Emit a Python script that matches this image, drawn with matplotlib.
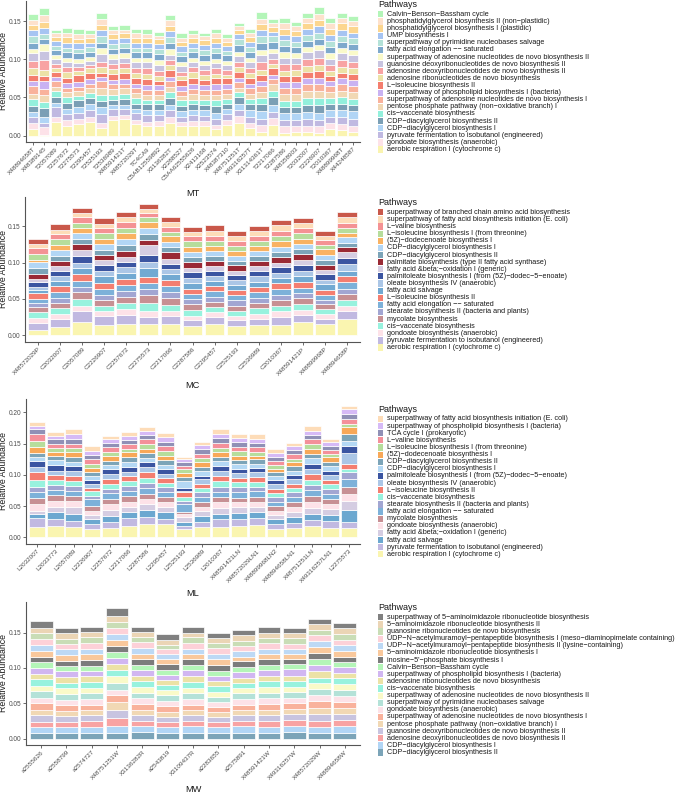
import numpy as np
import matplotlib
matplotlib.use('Agg')
import matplotlib.pyplot as plt
from matplotlib.patches import Rectangle
from matplotlib.ticker import FormatStrFormatter

plt.rcParams['font.family'] = ['Liberation Sans', 'DejaVu Sans']

# ======================= DATA =======================
# abundances are in permille (x 0.001); columns follow the pathway list (bottom -> top of stack)

# ---------- MT ----------
mt_samples = ["X48894658T", "X48389145", "T2057089", "T2257672", "T2275573", "T2295457",
              "T2525193", "T2536989", "X48591421T", "X48572029T", "TC4CA9", "C5AB12559892",
              "X3136282T", "X2288527", "C5AA62555626", "X2413168", "X2523574", "X48387310",
              "X48751251T", "X49316257T", "X31314361T", "T2217066", "T2287586", "X48358903",
              "T2032007", "T2226907", "T2010367", "X48899968T", "X44248587"]
mt_pathways = ["aerobic respiration I (cytochrome c)",
               "gondoate biosynthesis (anaerobic)",
               "pyruvate fermentation to isobutanol (engineered)",
               "CDP\u2212diacylglycerol biosynthesis I",
               "CDP\u2212diacylglycerol biosynthesis II",
               "cis\u2212vaccenate biosynthesis",
               "pentose phosphate pathway (non\u2212oxidative branch) I",
               "superpathway of adenosine nucleotides de novo biosynthesis I",
               "superpathway of phospholipid biosynthesis I (bacteria)",
               "L\u2212isoleucine biosynthesis II",
               "adenosine ribonucleotides de novo biosynthesis",
               "adenosine deoxyribonucleotides de novo biosynthesis II",
               "guanosine deoxyribonucleotides de novo biosynthesis II",
               "superpathway of adenosine nucleotides de novo biosynthesis II",
               "fatty acid elongation \u2212\u2212 saturated",
               "superpathway of pyrimidine nucleobases salvage",
               "UMP biosynthesis I",
               "phosphatidylglycerol biosynthesis I (plastidic)",
               "phosphatidylglycerol biosynthesis II (non\u2212plastidic)",
               "Calvin\u2212Benson\u2212Bassham cycle"]
mt_colors = ["#faf4b0", "#fde2e8", "#c0b9e1", "#b1d5f5", "#7b9fb5", "#93f0dc", "#f1d8b4",
             "#f9b29c", "#c9b2f2", "#f47e6e", "#ece2a6", "#f8a3a3", "#c8c4e0", "#fafaca",
             "#7ea9cc", "#b4e2d8", "#a6c4f2", "#fcd68f", "#fde1cc", "#b3f5b8"]
mt_abund = [
    [8, 8, 8, 7, 8, 9, 7, 10, 7, 8, 8, 10, 10, 6, 7, 9, 8, 7, 6, 8],
    [1, 10, 6, 8, 11, 8, 9, 8, 10, 7, 8, 13, 12, 9, 6, 7, 8, 8, 9, 9],
    [18, 6, 13, 6, 7, 8, 6, 7, 6, 7, 5, 5, 6, 6, 6, 6, 6, 5, 5, 5],
    [13, 7, 8, 7, 8, 7, 7, 6, 6, 7, 8, 6, 6, 6, 7, 6, 7, 7, 5, 7],
    [15, 7, 8, 8, 8, 6, 6, 6, 6, 9, 6, 5, 5, 6, 7, 6, 7, 6, 6, 7],
    [18, 7, 8, 8, 8, 7, 6, 6, 6, 8, 6, 5, 5, 5, 7, 6, 6, 6, 5, 6],
    [10, 7, 11, 9, 8, 8, 9, 9, 6, 5, 8, 7, 10, 8, 7, 9, 8, 6, 8, 8],
    [20, 6, 9, 5, 7, 6, 8, 6, 6, 8, 6, 7, 7, 6, 7, 6, 7, 6, 5, 5],
    [22, 5, 8, 5, 8, 7, 7, 6, 6, 8, 6, 7, 7, 6, 7, 6, 7, 6, 4, 7],
    [15, 5, 9, 6, 7, 7, 7, 6, 6, 8, 6, 7, 7, 6, 7, 6, 7, 6, 6, 6],
    [12, 6, 9, 7, 7, 6, 6, 7, 6, 8, 7, 7, 8, 6, 7, 6, 7, 6, 5, 7],
    [13, 6, 8, 7, 7, 6, 6, 7, 6, 6, 6, 7, 7, 7, 8, 6, 7, 6, 5, 5],
    [17, 7, 9, 7, 9, 8, 7, 7, 6, 9, 6, 7, 7, 7, 8, 8, 8, 7, 7, 7],
    [12, 6, 7, 7, 7, 7, 6, 7, 6, 8, 5, 6, 7, 6, 7, 6, 7, 6, 5, 6],
    [13, 6, 8, 7, 7, 6, 7, 7, 6, 9, 7, 7, 6, 6, 7, 6, 7, 6, 5, 5],
    [12, 7, 7, 7, 7, 7, 6, 7, 6, 7, 6, 7, 6, 6, 7, 7, 7, 6, 5, 5],
    [8, 6, 8, 8, 9, 7, 7, 7, 7, 8, 6, 7, 7, 6, 7, 7, 7, 6, 6, 6],
    [14, 6, 8, 7, 7, 6, 6, 7, 6, 8, 5, 6, 6, 6, 7, 6, 6, 6, 5, 5],
    [17, 9, 7, 9, 8, 7, 6, 7, 6, 8, 6, 7, 7, 6, 9, 7, 7, 6, 5, 3],
    [10, 7, 8, 8, 8, 7, 7, 7, 6, 8, 6, 7, 7, 6, 7, 7, 7, 6, 5, 6],
    [5, 9, 8, 10, 9, 8, 8, 8, 7, 8, 6, 10, 9, 7, 9, 9, 8, 8, 7, 9],
    [14, 9, 8, 9, 11, 8, 8, 7, 6, 8, 6, 7, 7, 6, 9, 7, 6, 6, 5, 6],
    [4, 8, 8, 9, 8, 8, 9, 8, 8, 8, 7, 9, 8, 7, 8, 8, 7, 8, 7, 7],
    [5, 7, 8, 9, 8, 8, 10, 7, 8, 8, 8, 8, 8, 6, 8, 7, 7, 7, 6, 6],
    [5, 8, 9, 9, 9, 9, 10, 9, 8, 8, 7, 9, 9, 7, 8, 8, 8, 7, 7, 7],
    [3, 9, 9, 9, 10, 9, 9, 9, 8, 10, 7, 10, 10, 7, 8, 8, 9, 8, 8, 8],
    [8, 8, 8, 9, 8, 8, 8, 8, 7, 6, 7, 8, 8, 7, 8, 8, 8, 8, 7, 7],
    [7, 8, 9, 9, 9, 8, 8, 9, 8, 7, 8, 9, 9, 7, 8, 8, 8, 8, 7, 7],
    [5, 8, 9, 10, 8, 8, 9, 8, 8, 8, 8, 8, 8, 7, 8, 8, 7, 8, 7, 7],
]

# ---------- MC ----------
mc_samples = ["X48572029P", "C2032007", "C2057089", "C2226907", "C2257672", "C2275573",
              "C2217066", "C2287586", "C2295457", "C2525193", "C2536989", "C2010367",
              "X48591421P", "X48899968P", "X48894658P"]
mc_pathways = ["aerobic respiration I (cytochrome c)",
               "pyruvate fermentation to isobutanol (engineered)",
               "gondoate biosynthesis (anaerobic)",
               "cis\u2212vaccenate biosynthesis",
               "mycolate biosynthesis",
               "stearate biosynthesis II (bacteria and plants)",
               "fatty acid elongation \u2212\u2212 saturated",
               "L\u2212isoleucine biosynthesis II",
               "fatty acid salvage",
               "oleate biosynthesis IV (anaerobic)",
               "palmitoleate biosynthesis I (from (5Z)\u2212dodec\u22125\u2212enoate)",
               "fatty acid &beta;\u2212oxidation I (generic)",
               "palmitate biosynthesis (type II fatty acid synthase)",
               "CDP\u2212diacylglycerol biosynthesis II",
               "CDP\u2212diacylglycerol biosynthesis I",
               "(5Z)\u2212dodecenoate biosynthesis I",
               "L\u2212isoleucine biosynthesis I (from threonine)",
               "L\u2212valine biosynthesis",
               "superpathway of fatty acid biosynthesis initiation (E. coli)",
               "superpathway of branched chain amino acid biosynthesis"]
mc_colors = ["#faf5b0", "#c1b9e1", "#fde2e8", "#98f2de", "#c79093", "#a2a6d2", "#7db1d9",
             "#f47e70", "#72a9d2", "#abc6e6", "#3b55a1", "#d5cde2", "#9a2a35", "#7ca4b8",
             "#b2d6f5", "#f9b262", "#b6dd9c", "#f49294", "#fddcb8", "#c9584a"]
mc_abund = [
    [7, 10, 7, 8, 7, 5, 6, 8, 5, 4, 7, 4, 7, 8, 8, 3, 8, 8, 5, 7],
    [12, 10, 8, 7, 8, 7, 8, 8, 7, 7, 7, 6, 7, 7, 8, 7, 8, 7, 6, 8],
    [18, 15, 8, 9, 9, 8, 8, 9, 8, 8, 9, 8, 9, 7, 7, 8, 7, 7, 6, 7],
    [14, 13, 7, 7, 7, 7, 9, 8, 9, 8, 7, 7, 7, 7, 8, 8, 7, 7, 6, 8],
    [15, 13, 8, 8, 9, 8, 8, 8, 9, 8, 7, 7, 8, 8, 8, 8, 8, 8, 6, 7],
    [15, 10, 9, 10, 11, 9, 8, 8, 13, 8, 10, 13, 7, 8, 8, 9, 6, 6, 6, 7],
    [15, 12, 7, 8, 9, 8, 9, 8, 8, 7, 7, 7, 9, 7, 7, 8, 6, 7, 7, 7],
    [13, 8, 6, 8, 8, 7, 7, 7, 8, 7, 8, 6, 8, 7, 7, 7, 7, 7, 6, 7],
    [16, 9, 7, 7, 7, 7, 8, 7, 7, 7, 7, 6, 7, 7, 7, 7, 7, 7, 6, 8],
    [13, 8, 6, 7, 7, 7, 7, 7, 7, 7, 7, 6, 7, 6, 7, 7, 7, 7, 6, 7],
    [14, 9, 7, 7, 8, 7, 7, 7, 8, 7, 8, 6, 7, 7, 7, 7, 7, 7, 6, 7],
    [14, 11, 8, 8, 8, 7, 8, 8, 7, 7, 8, 6, 8, 7, 7, 8, 7, 7, 7, 7],
    [19, 9, 7, 8, 8, 7, 7, 8, 8, 8, 8, 7, 8, 7, 7, 7, 7, 8, 6, 7],
    [15, 8, 7, 6, 7, 6, 7, 7, 7, 6, 8, 6, 7, 6, 8, 7, 6, 7, 6, 6],
    [22, 12, 7, 7, 9, 7, 9, 8, 8, 9, 8, 8, 7, 6, 8, 6, 7, 7, 7, 7],
]

# ---------- ML ----------
ml_samples = ["L2032007", "L2033773", "L2057089", "L2226907", "L2257672", "L2217066",
              "L2287586", "L2295457", "L2525193", "L2536989", "L2010367", "X48591421LN",
              "X48572029LN1", "X48899968LN2", "X48894658LN1", "X48751251LN",
              "X49316257LN1", "L2275573"]
ml_pathways = ["aerobic respiration I (cytochrome c)",
               "pyruvate fermentation to isobutanol (engineered)",
               "fatty acid salvage",
               "fatty acid &beta;\u2212oxidation I (generic)",
               "gondoate biosynthesis (anaerobic)",
               "mycolate biosynthesis",
               "fatty acid elongation \u2212\u2212 saturated",
               "stearate biosynthesis II (bacteria and plants)",
               "cis\u2212vaccenate biosynthesis",
               "L\u2212isoleucine biosynthesis II",
               "oleate biosynthesis IV (anaerobic)",
               "palmitoleate biosynthesis I (from (5Z)\u2212dodec\u22125\u2212enoate)",
               "CDP\u2212diacylglycerol biosynthesis I",
               "CDP\u2212diacylglycerol biosynthesis II",
               "(5Z)\u2212dodecenoate biosynthesis I",
               "L\u2212isoleucine biosynthesis I (from threonine)",
               "L\u2212valine biosynthesis",
               "TCA cycle I (prokaryotic)",
               "superpathway of phospholipid biosynthesis I (bacteria)",
               "superpathway of fatty acid biosynthesis initiation (E. coli)"]
ml_colors = ["#faf5b0", "#c1b9e1", "#6ca8d0", "#d5cde2", "#fde2e8", "#c79094", "#7db1d9",
             "#a2a6d2", "#98f2de", "#f47e70", "#abc6e6", "#3b55a1", "#b4d8f4", "#7ca4b8",
             "#f8a858", "#b6dd9c", "#f4909a", "#9090b6", "#d6baf6", "#fddcb8"]
ml_abund = [
    [17, 14, 6, 5, 11, 10, 10, 8, 11, 12, 9, 9, 7, 6, 9, 10, 11, 8, 6, 6],
    [18, 12, 10, 9, 10, 9, 8, 8, 8, 8, 7, 9, 8, 6, 7, 6, 7, 7, 6, 6],
    [16, 11, 11, 10, 10, 9, 8, 8, 8, 8, 7, 8, 7, 8, 7, 7, 7, 7, 8, 8],
    [13, 8, 8, 7, 7, 7, 12, 5, 7, 5, 6, 7, 6, 7, 6, 7, 8, 6, 7, 7],
    [15, 10, 10, 9, 9, 9, 9, 7, 7, 8, 8, 8, 7, 7, 7, 7, 7, 7, 6, 6],
    [19, 12, 10, 8, 8, 9, 9, 7, 8, 8, 7, 8, 7, 9, 7, 6, 7, 7, 7, 6],
    [22, 11, 11, 9, 8, 9, 9, 8, 8, 9, 8, 8, 7, 8, 7, 7, 8, 7, 7, 6],
    [21, 9, 11, 8, 7, 8, 8, 8, 7, 8, 7, 7, 7, 8, 7, 7, 8, 7, 7, 7],
    [13, 5, 6, 8, 5, 4, 13, 5, 6, 7, 3, 4, 11, 7, 6, 6, 6, 6, 4, 3],
    [16, 9, 9, 8, 7, 7, 9, 7, 7, 7, 7, 6, 7, 7, 7, 7, 7, 7, 7, 5],
    [17, 13, 8, 9, 9, 8, 9, 8, 9, 8, 8, 8, 8, 7, 7, 7, 8, 8, 7, 7],
    [19, 11, 9, 9, 8, 7, 9, 8, 8, 7, 8, 7, 7, 7, 7, 7, 7, 7, 7, 7],
    [20, 11, 9, 9, 8, 8, 9, 7, 8, 7, 8, 7, 7, 7, 6, 6, 7, 7, 7, 7],
    [14, 8, 7, 7, 7, 7, 7, 7, 7, 7, 7, 7, 6, 6, 6, 6, 6, 6, 7, 7],
    [15, 8, 9, 8, 8, 8, 9, 7, 7, 7, 7, 7, 7, 7, 6, 6, 7, 7, 7, 4],
    [18, 10, 10, 9, 10, 10, 9, 8, 8, 9, 8, 9, 9, 7, 8, 7, 8, 7, 7, 8],
    [15, 11, 10, 9, 9, 8, 8, 7, 8, 7, 8, 7, 7, 7, 7, 6, 6, 6, 6, 6],
    [15, 9, 20, 15, 11, 11, 12, 12, 4, 9, 17, 12, 8, 11, 10, 6, 7, 9, 8, 5],
]

# ---------- MW ----------
mw_samples = ["a2555626", "a2558799", "a2574727", "X48751251W", "X3136282R", "a2543819",
              "X3109437R", "a2283655", "a2575891", "X48591421W", "X49316257W",
              "X48572029W", "X48894658W"]
mw_pathways = ["CDP\u2212diacylglycerol biosynthesis II",
               "CDP\u2212diacylglycerol biosynthesis I",
               "adenosine deoxyribonucleotides de novo biosynthesis II",
               "guanosine deoxyribonucleotides de novo biosynthesis II",
               "pentose phosphate pathway (non\u2212oxidative branch) I",
               "superpathway of adenosine nucleotides de novo biosynthesis I",
               "gondoate biosynthesis (anaerobic)",
               "superpathway of pyrimidine nucleobases salvage",
               "superpathway of adenosine nucleotides de novo biosynthesis II",
               "cis\u2212vaccenate biosynthesis",
               "adenosine ribonucleotides de novo biosynthesis",
               "superpathway of phospholipid biosynthesis I (bacteria)",
               "Calvin\u2212Benson\u2212Bassham cycle",
               "inosine\u22125'\u2212phosphate biosynthesis I",
               "5\u2212aminoimidazole ribonucleotide biosynthesis I",
               "UDP\u2212N\u2212acetylmuramoyl\u2212pentapeptide biosynthesis II (lysine\u2212containing)",
               "UDP\u2212N\u2212acetylmuramoyl\u2212pentapeptide biosynthesis I (meso\u2212diaminopimelate containing)",
               "guanosine ribonucleotides de novo biosynthesis",
               "5\u2212aminoimidazole ribonucleotide biosynthesis II",
               "superpathway of 5\u2212aminoimidazole ribonucleotide biosynthesis"]
mw_colors = ["#7ba4b8", "#b1d5f5", "#f8a3a3", "#c8c4e0", "#f1d8b4", "#f9b29c", "#fde2e8",
             "#b4e2d8", "#fafac9", "#98f2de", "#ece2a6", "#d1b6f1", "#b4f5b8", "#7c7c7c",
             "#f9c89c", "#bdd9f5", "#fdd1d8", "#c9ddb6", "#ebd5b5", "#808080"]
mw_abund = [
    [8, 8, 8, 9, 8, 9, 8, 9, 8, 9, 8, 8, 8, 8, 8, 9, 8, 8, 8, 9],
    [8, 8, 8, 8, 7, 8, 8, 8, 8, 8, 8, 8, 7, 8, 8, 8, 8, 7, 8, 8],
    [8, 8, 9, 8, 7, 8, 8, 9, 7, 8, 8, 8, 7, 8, 8, 8, 8, 8, 8, 7],
    [8, 9, 12, 11, 11, 10, 8, 9, 10, 9, 9, 8, 8, 9, 8, 9, 9, 8, 9, 10],
    [9, 8, 8, 8, 8, 8, 8, 8, 8, 8, 8, 8, 7, 8, 8, 8, 8, 7, 8, 7],
    [8, 8, 8, 7, 7, 8, 7, 8, 7, 8, 7, 7, 7, 8, 7, 7, 7, 7, 7, 8],
    [8, 9, 8, 8, 7, 8, 8, 8, 8, 8, 8, 9, 7, 8, 7, 8, 8, 8, 7, 8],
    [8, 8, 8, 7, 7, 7, 7, 7, 7, 8, 7, 8, 7, 8, 8, 8, 8, 7, 7, 8],
    [8, 9, 8, 8, 7, 8, 8, 8, 7, 8, 7, 8, 7, 8, 7, 8, 7, 7, 8, 8],
    [8, 8, 9, 8, 7, 9, 8, 8, 8, 8, 8, 8, 7, 8, 7, 8, 8, 7, 8, 8],
    [9, 9, 8, 8, 8, 8, 8, 8, 7, 8, 8, 9, 7, 7, 7, 8, 7, 8, 7, 7],
    [8, 8, 9, 9, 9, 10, 9, 8, 8, 8, 9, 9, 8, 9, 9, 8, 8, 8, 8, 7],
    [8, 9, 9, 9, 8, 9, 8, 9, 8, 8, 8, 8, 7, 8, 8, 8, 8, 8, 8, 8],
]

# ======================= LAYOUT (pixels) =======================
W, H = 685, 794
panels = [
    dict(name="MT", samples=mt_samples, pathways=mt_pathways, colors=mt_colors, abund=mt_abund,
         box=(26, 360, 1, 142), yticks=[0, 0.05, 0.10, 0.15], title_y=193.5,
         leg_title_y=4.8, leg_first=14.3),
    dict(name="MC", samples=mc_samples, pathways=mc_pathways, colors=mc_colors, abund=mc_abund,
         box=(25, 360, 197, 342), yticks=[0, 0.05, 0.10, 0.15], title_y=385,
         leg_title_y=202.3, leg_first=212.3),
    dict(name="ML", samples=ml_samples, pathways=ml_pathways, colors=ml_colors, abund=ml_abund,
         box=(26, 360, 399, 544), yticks=[0, 0.05, 0.10, 0.15, 0.20], title_y=593,
         leg_title_y=409, leg_first=419),
    dict(name="MW", samples=mw_samples, pathways=mw_pathways, colors=mw_colors, abund=mw_abund,
         box=(26, 360, 602, 745), yticks=[0, 0.05, 0.10, 0.15], title_y=790,
         leg_title_y=607.3, leg_first=617.3),
]

fig = plt.figure(figsize=(W / 100, H / 100), dpi=100)
fig.patch.set_facecolor("white")

AX_COL = "#4d4d4d"
LEG_X = 378
LEG_TXT_X = 387
LEG_STEP = 7.12

for p in panels:
    l, r, t, b = p["box"]
    ax = fig.add_axes([l / W, 1 - b / H, (r - l) / W, (b - t) / H])
    vals = np.array(p["abund"], dtype=float) / 1000.0
    n = vals.shape[0]
    x = np.arange(n)
    bottom = np.zeros(n)
    for j, col in enumerate(p["colors"]):
        ax.bar(x, vals[:, j], bottom=bottom, width=0.9, color=col,
               edgecolor="white", linewidth=0.5)
        bottom = bottom + vals[:, j]
    top = bottom.max()
    ax.set_xlim(-0.6, n - 0.4)
    ax.set_ylim(-0.05 * top, 1.05 * top)
    ax.set_yticks(p["yticks"])
    ax.yaxis.set_major_formatter(FormatStrFormatter("%.2f"))
    ax.set_xticks(x)
    ax.set_xticklabels(p["samples"], rotation=45, ha="right", rotation_mode="anchor",
                       fontsize=4.6, color=AX_COL)
    for lab in ax.get_yticklabels():
        lab.set_fontsize(4.7)
        lab.set_color(AX_COL)
    ax.tick_params(axis="both", length=2, width=0.5, color="#333333", pad=1.2)
    for s in ["top", "right"]:
        ax.spines[s].set_visible(False)
    for s in ["left", "bottom"]:
        ax.spines[s].set_color("#555555")
        ax.spines[s].set_linewidth(0.8)
    ax.set_facecolor("white")

    # axis titles
    fig.text((l + r) / 2 / W, 1 - p["title_y"] / H, p["name"], ha="center", va="center",
             fontsize=6.7, color="#1a1a1a")
    fig.text(3.6 / W, 1 - (t + b) / 2 / H, "Relative Abundance", rotation=90,
             ha="center", va="center", fontsize=6.3, color="#1a1a1a")

    # legend (top of stack first)
    fig.text(LEG_X / W, 1 - p["leg_title_y"] / H, "Pathways", ha="left", va="center",
             fontsize=6.5, color="#1a1a1a")
    items = list(zip(p["pathways"], p["colors"]))[::-1]
    for i, (pw, col) in enumerate(items):
        yc = p["leg_first"] + i * LEG_STEP
        fig.add_artist(Rectangle((LEG_X / W, 1 - (yc + 3.1) / H), 5.5 / W, 6.2 / H,
                                 facecolor=col, edgecolor="none",
                                 transform=fig.transFigure))
        fig.text(LEG_TXT_X / W, 1 - yc / H, pw, ha="left", va="center",
                 fontsize=5.2, color="#1a1a1a")

fig.savefig("out.png", dpi=100, facecolor="white")
